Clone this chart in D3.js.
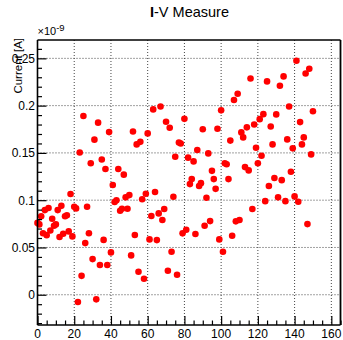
<!DOCTYPE html>
<html><head><meta charset="utf-8">
<script src="https://cdn.jsdelivr.net/npm/d3@7"></script>
<style>
html,body{margin:0;padding:0;background:#fff;}
svg{display:block;font-family:"Liberation Sans",Arial,Helvetica,sans-serif;}
</style></head>
<body><svg id="c" width="343" height="340"></svg>
<script>
// Voltage (x) values
const voltage = d3.range(0, 151);
// Current values in units of 1e-9 A
const current = [
0.076,0.0744,0.083,0.065,0.0895,0.063,0.0917,0.068,0.0803,0.073,
0.0744,0.0895,0.061,0.094,0.0645,0.083,0.084,0.067,0.1065,0.0617,
0.093,0.0913,-0.0077,0.1505,0.020,0.189,0.0546,0.093,0.065,0.139,
0.0377,0.164,-0.0049,0.182,0.0314,0.143,0.058,0.133,0.0314,0.172,
0.0448,0.116,0.098,0.100,0.133,0.0888,0.091,0.127,0.103,0.091,
0.1054,0.0416,0.1727,0.0631,0.159,0.0243,0.1617,0.101,0.0169,0.1068,
0.1706,0.0585,0.0832,0.196,0.1086,0.0578,0.086,0.199,0.079,0.0906,
0.183,0.0254,0.1766,0.0455,0.1036,0.146,0.0211,0.161,0.160,0.0649,
0.186,0.0687,0.145,0.117,0.1223,0.141,0.0642,0.153,0.115,0.118,
0.175,0.073,0.1025,0.1495,0.0779,0.131,0.1223,0.112,0.1755,0.0585,
0.195,0.0455,0.139,0.138,0.1223,0.163,0.0624,0.206,0.0776,0.2125,
0.079,0.1717,0.1664,0.135,0.177,0.1315,0.2287,0.0906,0.180,0.1554,
0.139,0.1857,0.147,0.191,0.099,0.2256,0.115,0.178,0.159,0.1234,
0.1907,0.103,0.221,0.1212,0.2309,0.099,0.1643,0.199,0.130,0.1548,
0.104,0.2474,0.0983,0.1826,0.159,0.1664,0.234,0.0747,0.239,0.1484,
0.194];
const xTicks = [0,20,40,60,80,100,120,140,160];
const yTicks = [0,0.05,0.1,0.15,0.2,0.25];
const title = "I-V Measure";
const yLabel = "Current [A]";

const svg = d3.select("#c");
const L = 37.5, R = 340.5, T = 40, B = 325;
const x = d3.scaleLinear().domain([0,165]).range([L,R]);
const y = d3.scaleLinear().domain([-0.032,0.2694]).range([B,T]);

// grid
const g = svg.append("g");
g.selectAll("line.gx").data(xTicks).join("line")
 .attr("x1",d=>x(d)).attr("x2",d=>x(d)).attr("y1",T).attr("y2",B)
 .attr("stroke","#444").attr("stroke-width",1).attr("stroke-dasharray","1,2");
g.selectAll("line.gy").data(yTicks).join("line")
 .attr("y1",d=>y(d)).attr("y2",d=>y(d)).attr("x1",L).attr("x2",R)
 .attr("stroke","#444").attr("stroke-width",1).attr("stroke-dasharray","1,2");

// points
svg.append("g").selectAll("circle").data(current).join("circle")
 .attr("cx",(d,i)=>x(voltage[i])).attr("cy",d=>y(d)).attr("r",3.3)
 .attr("fill","#ff0000");

// axes: ticks inside
const xAxis = d3.axisTop(x).tickValues(xTicks).tickSize(9).tickFormat("");
const xMinor = d3.axisTop(x).tickValues(d3.range(0,166,5).filter(v=>v%20!==0)).tickSize(4.5).tickFormat("");
const yAxis = d3.axisRight(y).tickValues(yTicks).tickSize(9).tickFormat(d=>d===0?"0":String(d));
const yMinor = d3.axisRight(y).tickValues(d3.range(-3,27).map(v=>v/100).filter(v=>Math.round(v*100)%5!==0)).tickSize(4.5).tickFormat("");

const gx = svg.append("g").attr("transform",`translate(0,${B})`).call(xAxis);
svg.append("g").attr("transform",`translate(0,${B})`).call(xMinor).select(".domain").remove();
gx.select(".domain").remove();
svg.append("g").selectAll("text").data(xTicks).join("text")
 .attr("x",d=>x(d)).attr("y",337.5).attr("text-anchor","middle")
 .attr("font-size",12).attr("fill","#000").text(d=>d3.format("d")(d));

const gy = svg.append("g").attr("transform",`translate(${L},0)`).call(yAxis);
svg.append("g").attr("transform",`translate(${L},0)`).call(yMinor).select(".domain").remove();
gy.select(".domain").remove();
gy.selectAll(".tick text").attr("x",-2.5).attr("text-anchor","end").attr("font-size",12).attr("fill","#000");
svg.selectAll(".tick line").attr("stroke","#000").attr("stroke-width",1.2);

// frame
svg.append("line").attr("x1",L).attr("x2",L).attr("y1",T).attr("y2",B).attr("stroke","#000").attr("stroke-width",1.6);
svg.append("line").attr("x1",L).attr("x2",R).attr("y1",B).attr("y2",B).attr("stroke","#000").attr("stroke-width",1.6);
svg.append("line").attr("x1",L).attr("x2",R).attr("y1",T).attr("y2",T).attr("stroke","#000").attr("stroke-width",1.4);
svg.append("line").attr("x1",R).attr("x2",R).attr("y1",T).attr("y2",B).attr("stroke","#000").attr("stroke-width",1.8);

// title
const tt = svg.append("text").attr("x",189.5).attr("y",17).attr("text-anchor","middle").attr("font-size",14.5).attr("fill","#000");
tt.append("tspan").attr("font-weight","bold").text(title.slice(0,1));
tt.append("tspan").text(title.slice(1));

// exponent
const ex = svg.append("text").attr("x",37.5).attr("y",34.5).attr("font-size",11).attr("fill","#000");
ex.append("tspan").text("\u00d710");
ex.append("tspan").attr("dy",-3.5).attr("font-size",9.5).text("-9");

// y label
svg.append("text").attr("transform","translate(21.5,38) rotate(-90)").attr("text-anchor","end")
 .attr("font-size",11.5).attr("fill","#000").text(yLabel);
</script></body></html>
